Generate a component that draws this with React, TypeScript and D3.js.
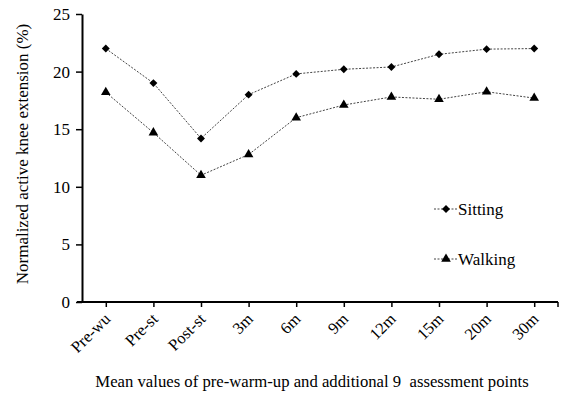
import React, { useRef, useEffect } from 'react';
import * as d3 from 'd3';

const categories = ['Pre-wu', 'Pre-st', 'Post-st', '3m', '6m', '9m', '12m', '15m', '20m', '30m'];
const sitting = [22.0, 19.0, 14.2, 18.0, 19.8, 20.2, 20.4, 21.5, 21.95, 22.0];
const walking = [18.2, 14.7, 11.0, 12.8, 16.0, 17.1, 17.8, 17.6, 18.25, 17.7];
const yTicks = [0, 5, 10, 15, 20, 25];
const seriesNames = ['Sitting', 'Walking'];

const W = 563;
const H = 394;
const FONT = '"Liberation Serif", "Times New Roman", serif';

export default function App() {
  const ref = useRef<SVGSVGElement>(null);

  useEffect(() => {
    document.body.style.margin = '0';
    document.body.style.overflow = 'hidden';
    const svg = d3.select(ref.current);
    svg.selectAll('*').remove();

    const left = 82, right = 558, top = 14, bottom = 302;

    const x = d3.scalePoint<string>().domain(categories).range([left, right]).padding(0.5);
    const y = d3.scaleLinear().domain([0, 25]).range([bottom, top]);

    // y axis
    const ya = svg.append('g').attr('transform', `translate(${left},0)`)
      .call(d3.axisLeft(y).tickValues(yTicks).tickSize(6).tickSizeOuter(0));
    ya.attr('font-family', null).attr('font-size', null);
    ya.select('.domain').attr('stroke', '#000').attr('stroke-width', 2);
    ya.selectAll('.tick line').attr('stroke', '#000').attr('stroke-width', 1.5);
    ya.selectAll('.tick text').style('font-family', FONT).style('font-size', '17px').attr('fill', '#000').attr('x', -12);

    // x axis
    const xa = svg.append('g').attr('transform', `translate(0,${bottom})`)
      .call(d3.axisBottom(x).tickSize(5).tickSizeOuter(0));
    xa.attr('font-family', null).attr('font-size', null);
    xa.select('.domain').attr('stroke', '#000').attr('stroke-width', 2)
      .attr('d', `M${left - 5},0H${right}`);
    xa.selectAll('.tick line').attr('stroke', '#000').attr('stroke-width', 1.5);
    xa.append('line').attr('x1', right).attr('x2', right).attr('y1', 0).attr('y2', 5)
      .attr('stroke', '#000').attr('stroke-width', 1.5);
    xa.selectAll('.tick text')
      .style('font-family', FONT).style('font-size', '16.5px').attr('fill', '#000')
      .attr('text-anchor', 'end')
      .attr('dy', null).attr('y', 0)
      .attr('transform', 'translate(5,18) rotate(-45)');

    const line = d3.line<number>().x((_, i) => x(categories[i])!).y(d => y(d));

    const lineStyle = (p: any) => p.attr('fill', 'none').attr('stroke', '#444')
      .attr('stroke-width', 1).attr('stroke-dasharray', '2,1.5');

    const diamond = d3.symbol().type(d3.symbolDiamond2).size(40)();
    const tri = d3.symbol().type(d3.symbolTriangle).size(40)();

    svg.append('path').datum(sitting).attr('d', line).call(lineStyle);
    svg.append('path').datum(walking).attr('d', line).call(lineStyle);

    svg.append('g').selectAll('path').data(sitting).join('path')
      .attr('d', diamond)
      .attr('transform', (d, i) => `translate(${x(categories[i])},${y(d)})`)
      .attr('fill', '#000');
    svg.append('g').selectAll('path').data(walking).join('path')
      .attr('d', tri)
      .attr('transform', (d, i) => `translate(${x(categories[i])},${y(d)})`)
      .attr('fill', '#000');

    // legend
    const legend = svg.append('g');
    [209, 259].forEach((ly, i) => {
      legend.append('line').attr('x1', 434).attr('x2', 457).attr('y1', ly).attr('y2', ly).call(lineStyle);
      legend.append('path').attr('d', i === 0 ? diamond : tri)
        .attr('transform', `translate(446,${ly})`).attr('fill', '#000');
      legend.append('text').attr('x', 458).attr('y', ly + 6)
        .style('font-family', FONT).style('font-size', '17px').attr('fill', '#000')
        .text(seriesNames[i]);
    });

    // titles
    svg.append('text')
      .attr('transform', `translate(28,154) rotate(-90)`)
      .attr('text-anchor', 'middle')
      .style('font-family', FONT).style('font-size', '17px').attr('fill', '#000')
      .text('Normalized active knee extension (%)');

    svg.append('text')
      .attr('x', 312).attr('y', 387)
      .attr('text-anchor', 'middle')
      .style('font-family', FONT).style('font-size', '16.7px').attr('fill', '#000')
      .style('white-space', 'pre')
      .text('Mean values of pre-warm-up and additional 9  assessment points');
  }, []);

  return (
    <div style={{ position: 'absolute', left: 0, top: 0 }}>
      <svg ref={ref} width={W} height={H} style={{ display: 'block', background: '#fff' }} />
    </div>
  );
}
